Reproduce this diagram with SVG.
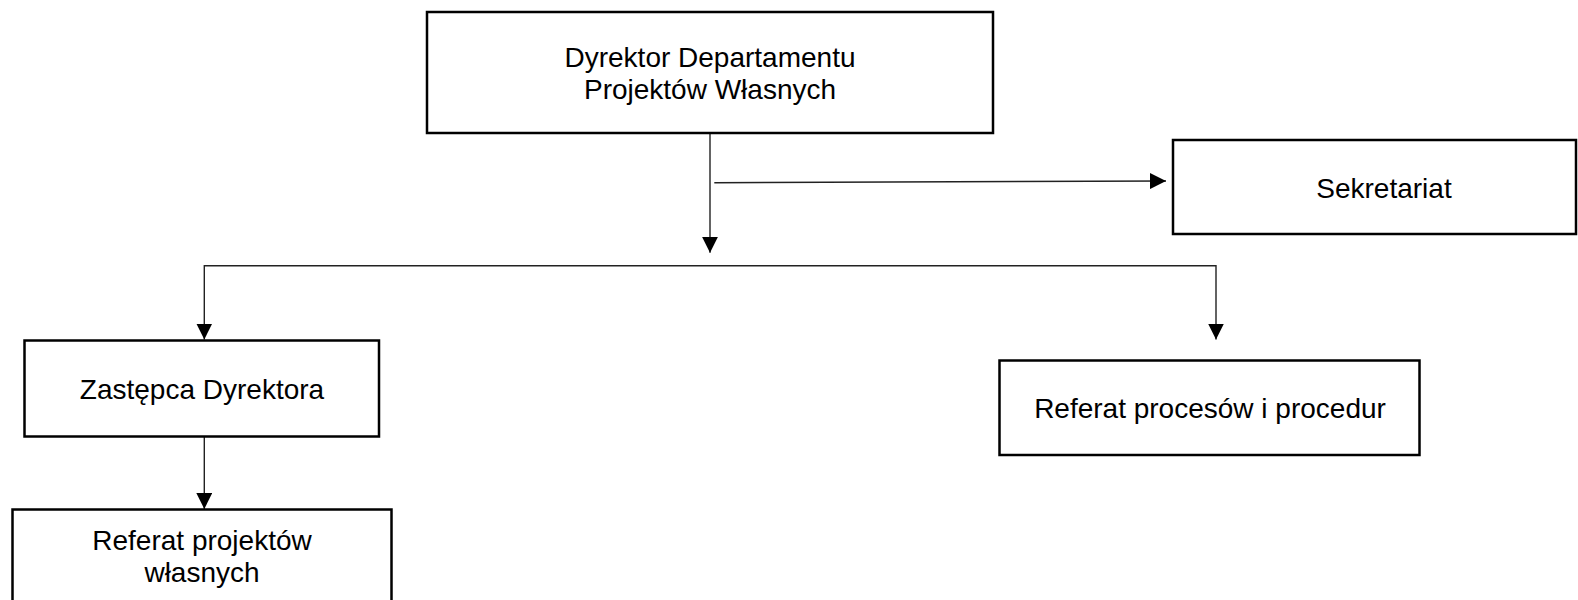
<svg xmlns="http://www.w3.org/2000/svg" width="1578" height="600" viewBox="0 0 1578 600">
<defs>
<style>
.box{fill:#fff;stroke:#000;stroke-width:2.5}
.lbl{font-family:"Liberation Sans",Arial,sans-serif;font-size:28px;fill:#000;text-anchor:middle}
.con{fill:none;stroke:#222;stroke-width:1.4}
</style>
<marker id="arr" markerUnits="userSpaceOnUse" markerWidth="16" markerHeight="16" refX="15" refY="7.5" orient="auto" viewBox="0 0 15 15">
<path d="M0,0 L15,7.5 L0,15 z" fill="#000"/>
</marker>
</defs>
<rect width="1578" height="600" fill="#fff"/>
<g id="connectors">
<path class="con" d="M710,133 V252.7" marker-end="url(#arr)"/>
<path class="con" d="M714.3,182.7 L1166,181" marker-end="url(#arr)"/>
<path class="con" d="M710,265.7 H204.3 V339.5" marker-end="url(#arr)"/>
<path class="con" d="M710,265.7 H1216 V339.5" marker-end="url(#arr)"/>
<path class="con" d="M204.3,436.7 V509" marker-end="url(#arr)"/>
</g>
<g id="dyrektor">
<rect class="box" x="427" y="12" width="566" height="121"/>
<text class="lbl" x="710" y="67">Dyrektor Departamentu</text>
<text class="lbl" x="710" y="99">Projektów Własnych</text>
</g>
<g id="sekretariat">
<rect class="box" x="1173" y="140" width="403" height="94"/>
<text class="lbl" x="1384" y="198">Sekretariat</text>
</g>
<g id="zastepca">
<rect class="box" x="24.5" y="340.5" width="354.5" height="96"/>
<text class="lbl" x="202" y="399">Zastępca Dyrektora</text>
</g>
<g id="referat-procesow">
<rect class="box" x="999.5" y="360.5" width="420" height="94.5"/>
<text class="lbl" x="1210" y="418">Referat procesów i procedur</text>
</g>
<g id="referat-projektow">
<rect class="box" x="12.5" y="509.5" width="379" height="110"/>
<text class="lbl" x="202" y="550">Referat projektów</text>
<text class="lbl" x="202" y="582">własnych</text>
</g>
</svg>
